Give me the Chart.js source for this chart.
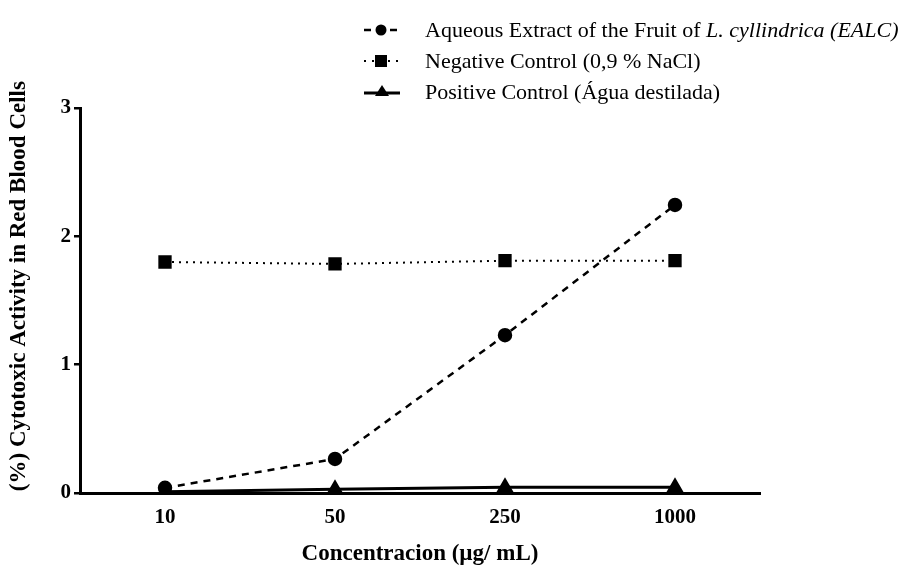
<!DOCTYPE html>
<html lang="en">
  <head>
    <meta charset="UTF-8" />
    <title>Cytotoxic Activity</title>
    <script src="https://cdn.jsdelivr.net/npm/chart.js@4.4.1/dist/chart.umd.min.js"></script>
    <style>
      body { margin: 0; background: #fff; }
      #wrap { position: relative; width: 912px; height: 565px; }
      #legend { position: absolute; left: 362px; top: 14px; font-family: "Liberation Serif", serif; font-size: 22px; color: #000; }
      #legend .row { height: 31px; display: flex; align-items: center; white-space: nowrap; }
      #legend svg { width: 44px; height: 24px; margin-right: 19px; }
    </style>
  </head>
  <body>
    <div id="wrap">
      <canvas id="chart" width="912" height="565"></canvas>
      <div id="legend">
        <div class="row">
          <svg viewBox="0 0 44 24"><line x1="2" y1="12" x2="36" y2="12" stroke="#000" stroke-width="2.5" stroke-dasharray="7,6"/><circle cx="19" cy="12" r="5.5" fill="#000"/></svg>
          <span>Aqueous Extract of the Fruit of <i>L. cyllindrica (EALC)</i></span>
        </div>
        <div class="row">
          <svg viewBox="0 0 44 24"><line x1="2" y1="12" x2="36" y2="12" stroke="#000" stroke-width="2" stroke-dasharray="2,6"/><rect x="13" y="6" width="12" height="12" fill="#000"/></svg>
          <span>Negative Control (0,9 % NaCl)</span>
        </div>
        <div class="row">
          <svg viewBox="0 0 44 24"><line x1="2" y1="13" x2="38" y2="13" stroke="#000" stroke-width="3"/><polygon points="20,5 27,16 13,16" fill="#000"/></svg>
          <span>Positive Control (Água destilada)</span>
        </div>
      </div>
    </div>
    <script>
      const concentrations = ["10", "50", "250", "1000"];
      const ealc = [0.04, 0.265, 1.23, 2.245];
      const negativeControl = [1.8, 1.785, 1.81, 1.81];
      const positiveControl = [0.01, 0.03, 0.045, 0.045];
      const yTicks = [0, 1, 2, 3];

      const serif = "'Liberation Serif', 'Times New Roman', serif";

      const ctx = document.getElementById("chart").getContext("2d");
      new Chart(ctx, {
        type: "line",
        data: {
          labels: concentrations,
          datasets: [
            {
              label: "Positive Control (Água destilada)",
              data: positiveControl,
              borderColor: "#000",
              backgroundColor: "#000",
              borderWidth: 3,
              pointStyle: "triangle",
              pointRadius: 7,
              fill: false,
            },
            {
              label: "Negative Control (0,9 % NaCl)",
              data: negativeControl,
              borderColor: "#000",
              backgroundColor: "#000",
              borderWidth: 2,
              borderDash: [2, 5],
              pointStyle: "rect",
              pointRadius: 8,
              fill: false,
            },
            {
              label: "Aqueous Extract of the Fruit of L. cyllindrica (EALC)",
              data: ealc,
              borderColor: "#000",
              backgroundColor: "#000",
              borderWidth: 2.5,
              borderDash: [7, 6],
              pointStyle: "circle",
              pointRadius: 6,
              fill: false,
            },
          ],
        },
        options: {
          responsive: false,
          animation: false,
          layout: { padding: { top: 108, right: 152, left: 0, bottom: 0 } },
          plugins: {
            legend: { display: false },
            tooltip: { enabled: false },
          },
          scales: {
            x: {
              offset: true,
              grid: { display: false, drawTicks: false },
              border: { color: "#000", width: 3 },
              ticks: { color: "#000", padding: 12, font: { family: serif, size: 21, weight: "bold" } },
              title: {
                display: true,
                text: "Concentracion (µg/ mL)",
                color: "#000",
                padding: { top: 0, bottom: -3 },
                font: { family: serif, size: 23, weight: "bold" },
              },
              afterFit: (scale) => { scale.height = 72; },
            },
            y: {
              min: 0,
              max: 3,
              afterBuildTicks: (scale) => { scale.ticks = yTicks.map((v) => ({ value: v })); },
              grid: { drawOnChartArea: false, color: "#000", lineWidth: 2.5, tickLength: 6 },
              border: { color: "#000", width: 3 },
              ticks: { color: "#000", padding: 3, font: { family: serif, size: 21, weight: "bold" } },
              title: {
                display: true,
                // leading spaces nudge the rotated title up to where the original sits
                text: "     (%) Cytotoxic Activity in Red Blood Cells",
                color: "#000",
                padding: { top: 5, bottom: 0 },
                font: { family: serif, size: 23, weight: "bold" },
              },
              afterFit: (scale) => { scale.width = 80; },
            },
          },
        },
      });
    </script>
  </body>
</html>
